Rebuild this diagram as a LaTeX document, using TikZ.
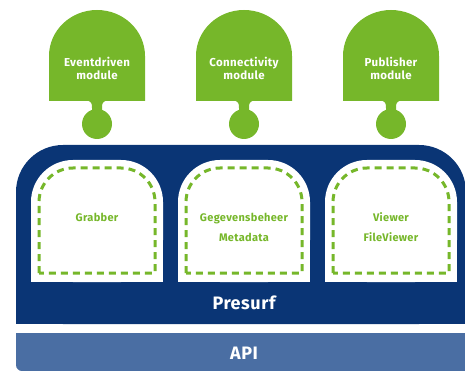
\documentclass[tikz,border=0pt]{standalone}
\usepackage{fontspec}
\setmainfont{Fira Sans}
\newfontfamily\lblfont[LetterSpace=3]{Fira Sans}
\definecolor{pgreen}{RGB}{118,183,42}
\definecolor{pblue}{RGB}{10,53,117}
\definecolor{papi}{RGB}{74,110,163}
\tikzset{
  modtxt/.style={text=white, font=\lblfont\bfseries\fontsize{11.5}{13}\selectfont, align=center, inner sep=0pt},
  intxt/.style={text=pgreen, font=\lblfont\bfseries\fontsize{11}{20}\selectfont, align=center, inner sep=0pt},
  bigtxt/.style={text=white, font=\lblfont\bfseries\fontsize{18}{20}\selectfont, inner sep=0pt},
  dashbox/.style={draw=pgreen, line width=3pt, dash pattern=on 7pt off 5pt},
  puzzle/.pic={
    \fill[pgreen] (-48,101) -- (-48,56) arc[start angle=180,end angle=0,x radius=48pt,y radius=46pt] -- (48,101) -- cycle;
    \fill[pgreen] (-12,100.5) .. controls (-5,100.5) and (-5,104) .. (-5,108) -- (-5,114) -- (5,114) -- (5,108) .. controls (5,104) and (5,100.5) .. (12,100.5) -- cycle;
    \fill[pgreen] (0,124) circle[radius=15pt];
  },
  innerbox/.pic={
    \fill[white, rounded corners=42pt] (-66,160) rectangle (66,282);
    \fill[white] (-66,220) rectangle (66,282);
    \draw[dashbox] (-58,273) -- (-58,202) arc[start angle=180,end angle=90,radius=34pt] -- (24,168) arc[start angle=90,end angle=0,radius=34pt] -- (58,273) -- cycle;
  }
}
\begin{document}
\begin{tikzpicture}[x=1pt,y=-1pt]
\useasboundingbox (0,0) rectangle (465,371);
\clip (0,0) rectangle (465,371);
% puzzle pieces
\pic at (97,0) {puzzle};
\pic at (244,0) {puzzle};
\pic at (391,0) {puzzle};
\node[modtxt] (m1) at (97,68) {Eventdriven\\module};
\node[modtxt] (m2) at (244,68) {Connectivity\\module};
\node[modtxt] (m3) at (391,68) {Publisher\\module};
% Presurf block
\fill[pblue, rounded corners=47pt] (16,145) rectangle (466,324);
\fill[pblue] (16,220) rectangle (466,324);
\pic at (97,0) {innerbox};
\pic at (244,0) {innerbox};
\pic at (391,0) {innerbox};
\node[intxt] (b1) at (97,217) {Grabber};
\node[intxt] (b2) at (244,227) {Gegevensbeheer\\Metadata};
\node[intxt] (b3) at (391,227) {Viewer\\FileViewer};
\node[bigtxt] (presurf) at (244,303) {Presurf};
% API
\fill[papi, rounded corners=6pt] (16,333) rectangle (472,371);
\fill[papi] (16,333) rectangle (472,350);
\node[bigtxt] (api) at (244,353) {API};
\end{tikzpicture}
\end{document}
